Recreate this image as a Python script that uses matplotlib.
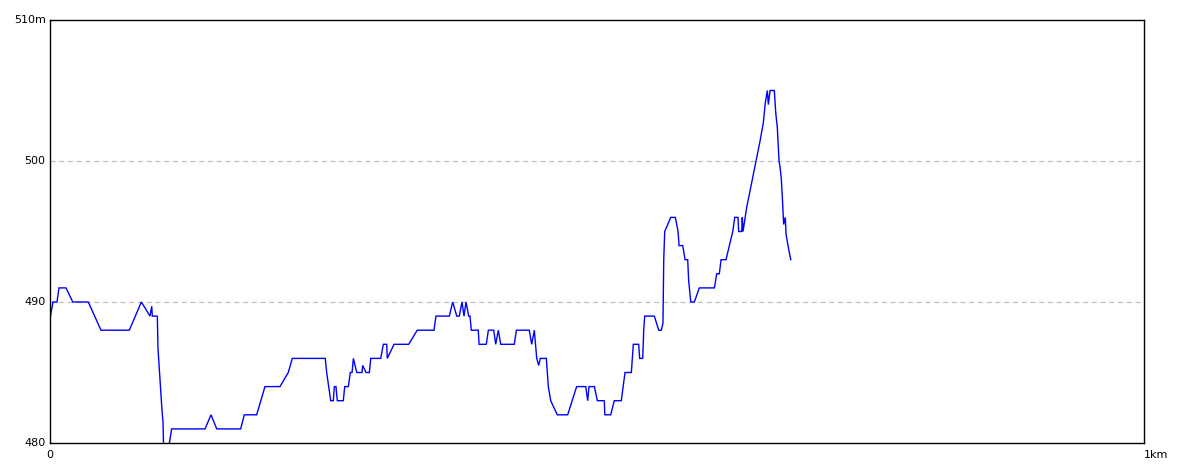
import matplotlib
matplotlib.use('Agg')
import matplotlib.pyplot as plt

# elevation profile: distance (m) and elevation (m)
distance = [0.0, 2.7, 6.4, 8.2, 14.6, 20.8, 35.0, 46.6, 72.5, 83.5, 91.4, 93.0, 93.5, 98.1,
            98.7, 100.6, 102.4, 103.3, 103.9, 108.1, 111.2, 141.7, 147.2, 152.4, 174.3,
            177.6, 188.9, 196.5, 210.2, 217.8, 221.5, 251.6, 252.9, 254.8, 256.6, 259.0,
            259.9, 261.4, 262.6, 268.1, 269.4, 272.7, 274.5, 276.1, 277.3, 280.4, 285.2,
            285.8, 288.9, 291.9, 293.2, 302.3, 304.7, 307.8, 308.3, 314.5, 327.9, 335.7,
            351.0, 352.8, 365.0, 368.1, 371.8, 374.1, 376.6, 378.4, 380.3, 382.7, 383.9,
            385.1, 391.5, 392.2, 398.8, 400.7, 405.6, 407.4, 409.8, 412.0, 424.4, 426.3,
            438.1, 440.3, 442.7, 444.9, 446.7, 448.2, 453.7, 455.5, 457.7, 463.7, 473.2,
            481.4, 489.7, 491.5, 492.7, 497.6, 500.3, 506.7, 507.1, 512.5, 515.8, 522.2,
            525.6, 531.4, 533.2, 538.1, 539.0, 541.8, 542.7, 543.6, 552.4, 556.4, 558.8,
            560.3, 561.0, 561.9, 567.4, 571.6, 574.1, 575.0, 578.4, 580.5, 582.9, 583.8,
            585.7, 589.0, 593.5, 607.3, 609.4, 611.8, 613.4, 617.9, 621.0, 624.1, 625.9,
            628.9, 629.5, 632.3, 632.8, 633.5, 636.8, 639.9, 642.9, 646.0, 649.0, 652.0,
            653.8, 655.7, 656.6, 658.2, 662.1, 663.4, 664.8, 666.4, 667.3, 668.5, 669.7,
            670.6, 672.1, 672.8, 674.6, 677.1]
elevation = [488.8, 490, 490, 491, 491, 490, 490, 488, 488, 490, 489, 489.7, 489, 489,
             486.7, 484.5, 482.3, 481.5, 479.5, 479.5, 481, 481, 482, 481, 481,
             482, 482, 484, 484, 485, 486, 486, 485, 484, 483, 483,
             484, 484, 483, 483, 484, 484, 485, 485, 486, 485, 485,
             485.5, 485, 485, 486, 486, 487, 487, 486, 487, 487, 488,
             488, 489, 489, 490, 489, 489, 490, 489, 490, 489, 489,
             488, 488, 487, 487, 488, 488, 487, 488, 487, 487, 488,
             488, 487, 488, 486, 485.5, 486, 486, 484, 483, 482, 482,
             484, 484, 483, 484, 484, 483, 483, 482, 482, 483, 483,
             485, 485, 487, 487, 486, 486, 488, 489, 489, 488, 488,
             488.5, 493, 495, 496, 496, 495, 494, 494, 493, 493, 491.5,
             490, 490, 491, 491, 492, 492, 493, 493, 494, 495, 496,
             496, 495, 495, 496, 495, 496.7, 497.9, 499.1, 500.3, 501.4, 502.7,
             504.1, 505, 504, 505, 505, 503.4, 502.4, 500, 499.6, 498.7, 497,
             495.5, 496, 494.8, 494, 493]

y_ticks = [480, 490, 500, 510]
y_labels = ['480', '490', '500', '510m']
x_ticks = [0, 1000]
x_labels = ['0', '1km']

fig = plt.figure(figsize=(11.84, 4.73), dpi=100, facecolor='white')
ax = fig.add_axes([50 / 1184, 30 / 473, 1094 / 1184, 423 / 473])

ax.plot(distance, elevation, color='#0000ff', linewidth=1.0, solid_joinstyle='miter')

ax.set_xlim(0, 1000)
ax.set_ylim(480, 510)

# dashed grid at the inner elevation levels only
for lvl in [490, 500]:
    ax.axhline(lvl, color='#c0c0c0', linewidth=0.9, linestyle=(0, (4, 3)), zorder=0)

ax.set_xticks([])
ax.set_yticks([])
for spine in ax.spines.values():
    spine.set_color('black')
    spine.set_linewidth(1.0)

for val, lab in zip(y_ticks, y_labels):
    ax.text(-0.004, (val - 480) / 30, lab, transform=ax.transAxes,
            ha='right', va='center', fontsize=8, color='black')

ax.text(0, -0.028, x_labels[0], transform=ax.transAxes,
        ha='center', va='center', fontsize=8, color='black')
ax.text(1.0, -0.028, x_labels[1], transform=ax.transAxes,
        ha='left', va='center', fontsize=8, color='black')

plt.savefig('out.png', dpi=100, facecolor='white')
plt.close()
